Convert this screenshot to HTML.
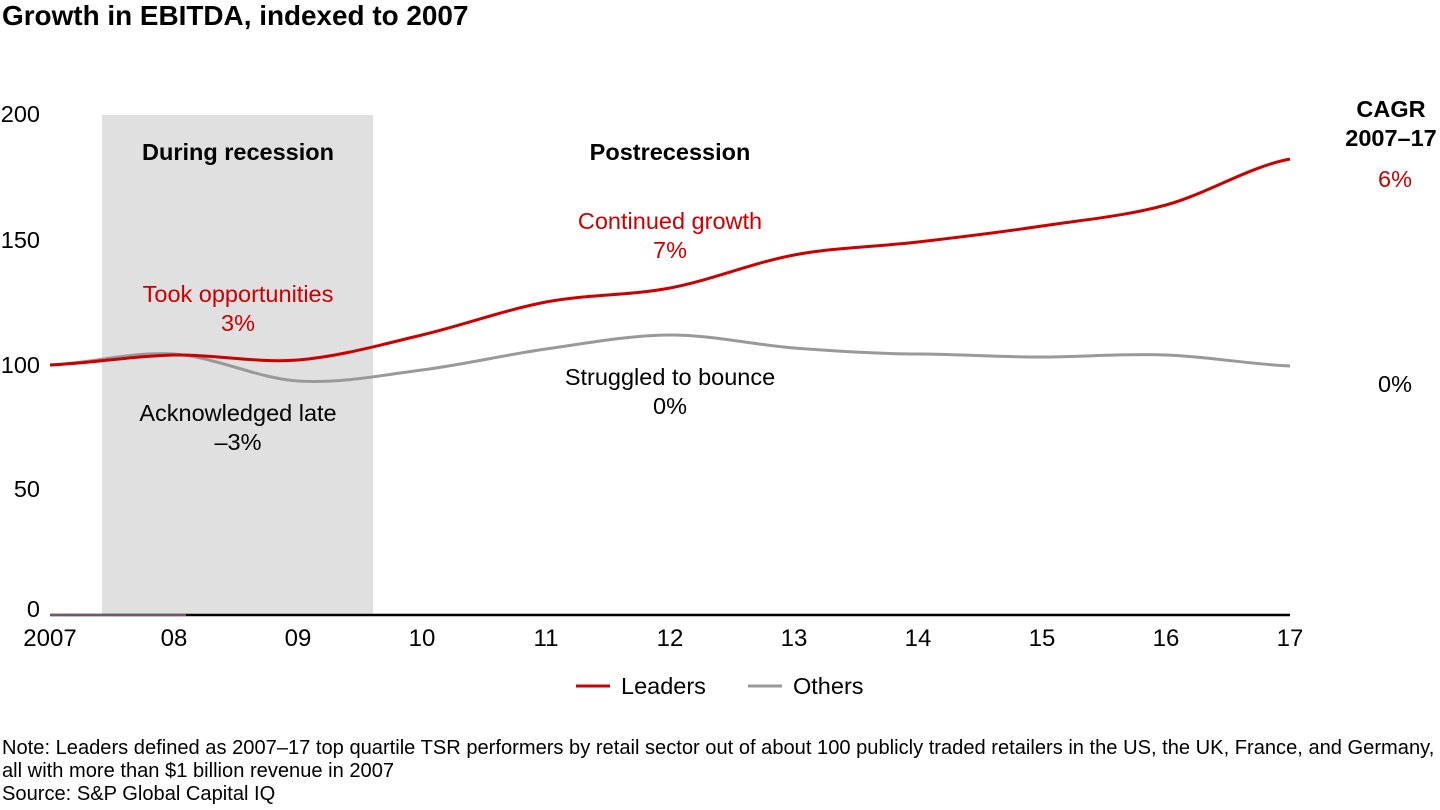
<!DOCTYPE html>
<html><head><meta charset="utf-8"><style>
body{margin:0;background:#fff;}
svg{display:block;font-family:"Liberation Sans",Arial,sans-serif;}
</style></head><body>
<svg width="1440" height="810" viewBox="0 0 1440 810">
<text x="2" y="25" font-size="27.9" font-weight="bold">Growth in EBITDA, indexed to 2007</text>
<rect x="102" y="115" width="271" height="500" fill="#e0e0e0"/>
<g font-size="23.5" fill="#000" text-anchor="end">
<text x="40" y="122">200</text>
<text x="40" y="248">150</text>
<text x="40" y="373">100</text>
<text x="40" y="497">50</text>
<text x="40" y="617">0</text>
</g>
<line x1="50" y1="615" x2="1290" y2="615" stroke="#000" stroke-width="2.5"/>
<line x1="50" y1="615" x2="186" y2="615" stroke="#a07090" stroke-width="1.5"/>
<g font-size="24" text-anchor="middle">
<text x="50" y="646">2007</text><text x="174" y="646">08</text><text x="298" y="646">09</text>
<text x="422" y="646">10</text><text x="546" y="646">11</text><text x="670" y="646">12</text>
<text x="794" y="646">13</text><text x="918" y="646">14</text><text x="1042" y="646">15</text>
<text x="1166" y="646">16</text><text x="1290" y="646">17</text>
</g>
<path d="M50,365 C91,363.2 133,351.3 174,354 C215,356.7 257,378.3 298,381 C339,383.7 381,375.3 422,370 C463,364.7 505,354.8 546,349 C587,343.2 629,335.2 670,335 C711,334.8 753,344.8 794,348 C835,351.2 877,353.8 918,354 C959,354.2 1001,357.2 1042,357 C1083,356.8 1125,353.5 1166,355 C1207,356.5 1249,364.2 1290,366" fill="none" stroke="#999" stroke-width="3"/>
<path d="M50,365 C91,363.3 133,355.8 174,355 C215,354.2 257,363.3 298,360 C339,356.7 381,344.7 422,335 C463,325.3 505,309.8 546,302 C587,294.2 629,295.8 670,288 C711,280.2 753,262.7 794,255 C835,247.3 877,246.8 918,242 C959,237.2 1001,232.2 1042,226 C1083,219.8 1125,216.2 1166,205 C1207,193.8 1249,166.7 1290,159" fill="none" stroke="#cc0000" stroke-width="3"/>
<g font-size="23.5" text-anchor="middle">
<text x="238" y="160" font-weight="bold">During recession</text>
<text x="670" y="160" font-weight="bold">Postrecession</text>
<text x="1391" y="117" font-weight="bold">CAGR</text>
<text x="1391" y="146" font-weight="bold">2007–17</text>
<text x="1395" y="187" fill="#cc0000">6%</text>
<text x="1395" y="392">0%</text>
<text x="670" y="229" fill="#cc0000">Continued growth</text>
<text x="670" y="258" fill="#cc0000">7%</text>
<text x="238" y="302" fill="#cc0000">Took opportunities</text>
<text x="238" y="331" fill="#cc0000">3%</text>
<text x="670" y="385">Struggled to bounce</text>
<text x="670" y="414">0%</text>
<text x="238" y="421">Acknowledged late</text>
<text x="238" y="450">–3%</text>
</g>
<line x1="576" y1="686" x2="610" y2="686" stroke="#cc0000" stroke-width="3"/>
<text x="621" y="694" font-size="23.5">Leaders</text>
<line x1="748" y1="686" x2="782" y2="686" stroke="#999" stroke-width="3"/>
<text x="793" y="694" font-size="23.5">Others</text>
<g font-size="20.1">
<text x="2" y="754">Note: Leaders defined as 2007–17 top quartile TSR performers by retail sector out of about 100 publicly traded retailers in the US, the UK, France, and Germany,</text>
<text x="2" y="777">all with more than $1 billion revenue in 2007</text>
<text x="2" y="800">Source: S&amp;P Global Capital IQ</text>
</g>
</svg>
</body></html>
